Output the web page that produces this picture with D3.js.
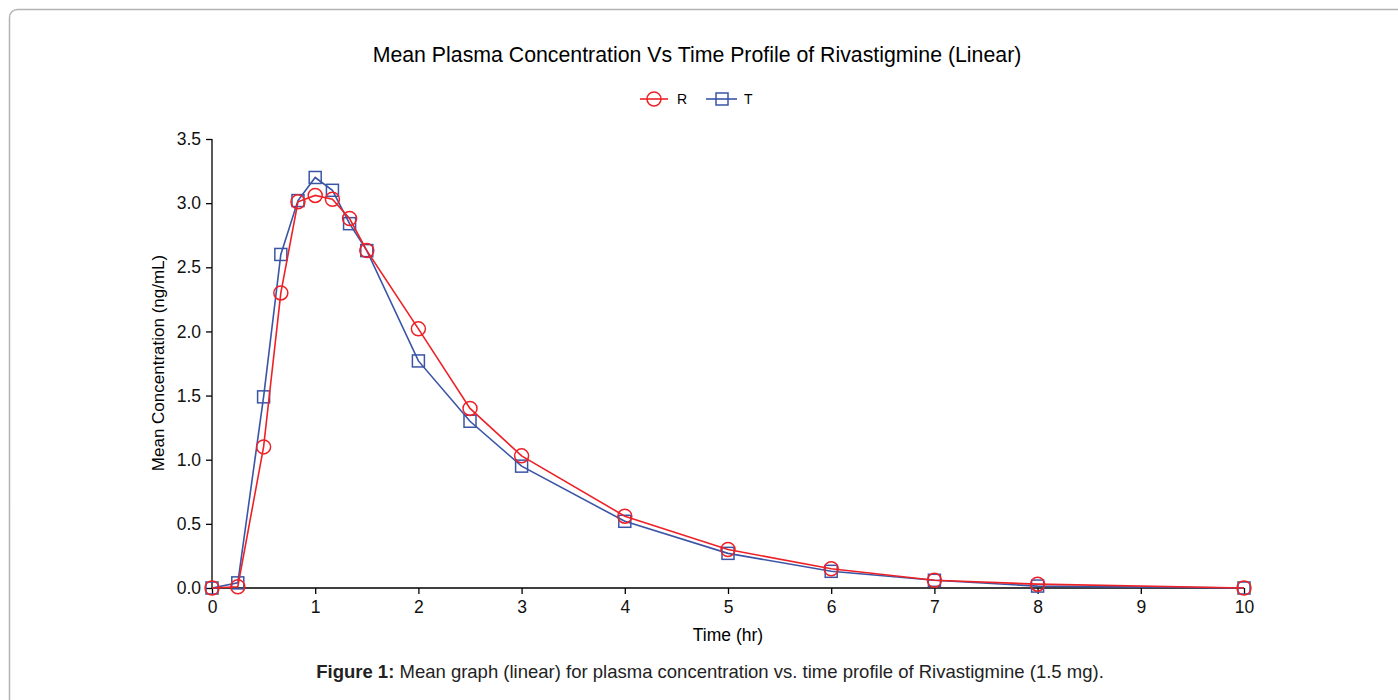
<!DOCTYPE html>
<html>
<head>
<meta charset="utf-8">
<script src="https://cdn.jsdelivr.net/npm/d3@7"></script>
<style>
  body { margin: 0; background: #fff; }
  svg { font-family: "Liberation Sans", Arial, sans-serif; }
</style>
</head>
<body>
<div id="chart"></div>
<script>
// time points (hr)
const times = [0, 0.25, 0.5, 0.667, 0.833, 1, 1.167, 1.333, 1.5, 2, 2.5, 3, 4, 5, 6, 7, 8, 10]
// mean concentrations (ng/mL)
const refValues  = [0, 0.01, 1.10, 2.30, 3.01, 3.06, 3.03, 2.88, 2.63, 2.02, 1.40, 1.03, 0.56, 0.30, 0.15, 0.06, 0.03, 0]
const testValues = [0, 0.04, 1.49, 2.60, 3.02, 3.20, 3.10, 2.84, 2.63, 1.77, 1.30, 0.95, 0.52, 0.27, 0.13, 0.06, 0.015, 0]
const xTicks = [0, 1, 2, 3, 4, 5, 6, 7, 8, 9, 10]
const yTicks = [0, 0.5, 1.0, 1.5, 2.0, 2.5, 3.0, 3.5]

const width = 1398, height = 700
const red = "#ee2127", blue = "#3a55a5"

const svg = d3.select("#chart").append("svg")
    .attr("width", width)
    .attr("height", height)

// frame around the figure
svg.append("rect")
    .attr("x", 9.5).attr("y", 9.5)
    .attr("width", 1420).attr("height", 720)
    .attr("rx", 8)
    .attr("fill", "none")
    .attr("stroke", "#b3b3b3")
    .attr("stroke-width", 1.5)

const x = d3.scaleLinear().domain([0, 10]).range([212, 1244])
const y = d3.scaleLinear().domain([0, 3.5]).range([588, 139])

// axes
svg.append("g")
    .attr("transform", `translate(0,${y(0)})`)
    .call(d3.axisBottom(x).tickValues(xTicks).tickSize(6).tickPadding(7).tickFormat(d3.format("d")))
    .call(g => g.select(".domain").attr("d", `M${x(0)},0H${x(10)}`))

svg.append("g")
    .attr("transform", `translate(${x(0)},0)`)
    .call(d3.axisLeft(y).tickValues(yTicks).tickSize(6).tickPadding(5).tickFormat(d3.format(".1f")))
    .call(g => g.select(".domain").attr("d", `M0,${y(3.5)}V${y(0)}`))

svg.selectAll(".tick text").attr("font-size", 17.5).attr("fill", "#111")
    .attr("font-family", "Liberation Sans, Arial, sans-serif")
svg.selectAll(".domain, .tick line").attr("stroke", "#000").attr("stroke-width", 1.3)

// axis titles
svg.append("text")
    .attr("x", 728).attr("y", 641)
    .attr("text-anchor", "middle")
    .attr("font-size", 17.5)
    .text("Time (hr)")

svg.append("text")
    .attr("transform", "translate(164,363) rotate(-90)")
    .attr("text-anchor", "middle")
    .attr("font-size", 17)
    .text("Mean Concentration (ng/mL)")

// title
svg.append("text")
    .attr("x", 697).attr("y", 62)
    .attr("text-anchor", "middle")
    .attr("font-size", 21.3)
    .text("Mean Plasma Concentration Vs Time Profile of Rivastigmine (Linear)")

const line = d3.line().x(d => x(d[0])).y(d => y(d[1]))
const testData = d3.zip(times, testValues)
const refData = d3.zip(times, refValues)

// T series (blue squares)
svg.append("path")
    .datum(testData)
    .attr("d", line)
    .attr("fill", "none")
    .attr("stroke", blue)
    .attr("stroke-width", 1.6)

svg.append("g").selectAll("rect")
    .data(testData)
    .join("rect")
      .attr("x", d => x(d[0]) - 6)
      .attr("y", d => y(d[1]) - 6)
      .attr("width", 12).attr("height", 12)
      .attr("fill", "none")
      .attr("stroke", blue)
      .attr("stroke-width", 1.5)

// R series (red circles)
svg.append("path")
    .datum(refData)
    .attr("d", line)
    .attr("fill", "none")
    .attr("stroke", red)
    .attr("stroke-width", 1.6)

svg.append("g").selectAll("circle")
    .data(refData)
    .join("circle")
      .attr("cx", d => x(d[0]))
      .attr("cy", d => y(d[1]))
      .attr("r", 7)
      .attr("fill", "none")
      .attr("stroke", red)
      .attr("stroke-width", 1.5)

// legend
const legend = svg.append("g").attr("transform", "translate(0,99)")
legend.append("line").attr("x1", 640).attr("x2", 668).attr("stroke", red).attr("stroke-width", 1.6)
legend.append("circle").attr("cx", 654).attr("r", 7).attr("fill", "none").attr("stroke", red).attr("stroke-width", 1.5)
legend.append("text").attr("x", 677).attr("y", 5).attr("font-size", 14).text("R")
legend.append("line").attr("x1", 706).attr("x2", 737).attr("stroke", blue).attr("stroke-width", 1.6)
legend.append("rect").attr("x", 716).attr("y", -6).attr("width", 12).attr("height", 12)
    .attr("fill", "none").attr("stroke", blue).attr("stroke-width", 1.5)
legend.append("text").attr("x", 744).attr("y", 5).attr("font-size", 14).text("T")

// caption
const caption = svg.append("text")
    .attr("x", 710).attr("y", 678)
    .attr("text-anchor", "middle")
    .attr("font-size", 18.5)
    .attr("fill", "#222")
caption.append("tspan").attr("font-weight", "bold").text("Figure 1:")
caption.append("tspan").text(" Mean graph (linear) for plasma concentration vs. time profile of Rivastigmine (1.5 mg).")
</script>
</body>
</html>
